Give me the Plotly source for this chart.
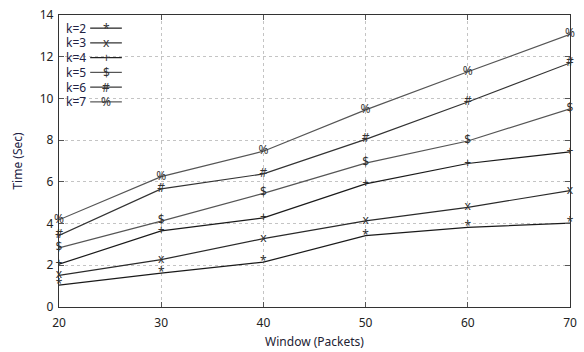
import plotly.graph_objects as go

window = [20, 30, 40, 50, 60, 70]
series_names = ["k=2", "k=3", "k=4", "k=5", "k=6", "k=7"]
series_symbols = ["*", "x", "+", "$", "#", "%"]
k2 = [1.05, 1.62, 2.15, 3.42, 3.82, 4.02]
k3 = [1.52, 2.27, 3.28, 4.13, 4.78, 5.58]
k4 = [2.05, 3.65, 4.27, 5.9, 6.88, 7.44]
k5 = [2.83, 4.12, 5.45, 6.9, 7.96, 9.5]
k6 = [3.43, 5.66, 6.38, 8.04, 9.83, 11.7]
k7 = [4.18, 6.25, 7.47, 9.45, 11.28, 13.07]
series_values = [k2, k3, k4, k5, k6, k7]
line_colors = ["#1a1a1a", "#2a2a2a", "#1a1a1a", "#555555", "#333333", "#555555"]

x_ticks = [20, 30, 40, 50, 60, 70]
y_ticks = [0, 2, 4, 6, 8, 10, 12, 14]

FONT = "Noto Sans"
fig = go.Figure()
for name, sym, vals, col in zip(series_names, series_symbols, series_values, line_colors):
    fig.add_trace(go.Scatter(
        x=window, y=vals, mode="lines+text", name=name,
        text=[sym] * len(vals), textposition="middle center",
        textfont=dict(family=FONT, size=12, color="#333333"),
        line=dict(color=col, width=1.2), showlegend=False, cliponaxis=False,
    ))

# custom legend (gnuplot style: label, line sample, symbol)
for i, (name, sym, col) in enumerate(zip(series_names, series_symbols, line_colors)):
    yp = 0.955 - i * 0.0505
    fig.add_annotation(xref="paper", yref="paper", x=0.01, y=yp, text=name,
                       showarrow=False, xanchor="left", yanchor="middle",
                       font=dict(family=FONT, size=12, color="#222244"))
    fig.add_shape(type="line", xref="paper", yref="paper", x0=0.061, x1=0.123,
                  y0=yp, y1=yp, line=dict(color=col, width=1.2))
    fig.add_annotation(xref="paper", yref="paper", x=0.092, y=yp, text=sym,
                       showarrow=False, xanchor="center", yanchor="middle",
                       font=dict(family=FONT, size=12, color="#333333"))

axis_common = dict(
    showline=True, linecolor="#333333", linewidth=1.3, mirror="allticks",
    ticks="inside", ticklen=5, tickcolor="#555555", automargin=False,
    showgrid=True, gridcolor="#c4c4c4", griddash="dot", gridwidth=1,
    zeroline=False, tickfont=dict(family=FONT, size=12, color="#222222"),
)
fig.update_xaxes(range=[20, 70], tickvals=x_ticks, ticklabelstandoff=4,
                 title=dict(text="Window (Packets)", font=dict(family=FONT, size=12, color="#222233"), standoff=8),
                 **axis_common)
fig.update_yaxes(range=[0, 14], tickvals=y_ticks, ticklabelstandoff=2,
                 title=dict(text="Time (Sec)", font=dict(family=FONT, size=12, color="#222244"), standoff=14),
                 **axis_common)
fig.update_layout(
    width=584, height=352, margin=dict(l=59, r=14, t=15, b=45),
    plot_bgcolor="white", paper_bgcolor="white",
)
fig.write_html("out.html")
